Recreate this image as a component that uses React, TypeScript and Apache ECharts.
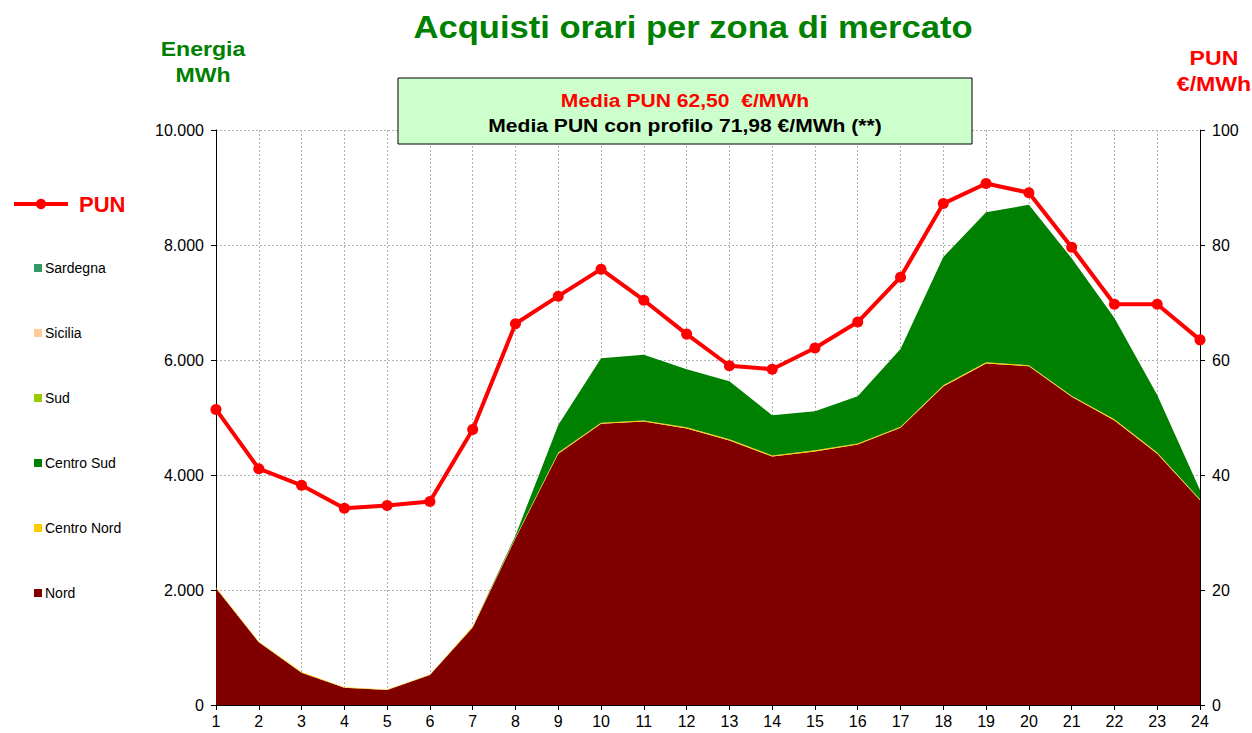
import React, { useEffect, useRef } from "react";
import * as echarts from "echarts";

const hours = ["1","2","3","4","5","6","7","8","9","10","11","12","13","14","15","16","17","18","19","20","21","22","23","24"];
const nord = [2030,1090,560,300,260,520,1350,2900,4370,4890,4930,4810,4600,4320,4410,4530,4820,5540,5940,5890,5360,4950,4370,3560];
const centroNord = [15,14,12,10,10,12,15,18,20,20,20,20,20,20,20,20,20,20,20,20,20,20,20,20];
const centroSud = [0,0,0,0,0,0,0,30,480,1120,1140,1010,1010,700,680,820,1350,2230,2610,2790,2390,1760,1000,160];
const sud = [0,0,0,0,0,0,0,0,0,0,0,0,0,0,0,0,0,0,0,0,0,0,0,0];
const sicilia = [0,0,0,0,0,0,0,0,0,0,0,0,0,0,0,0,0,0,0,0,0,0,0,0];
const sardegna = [0,0,0,0,0,0,0,0,0,0,0,0,0,0,0,0,0,0,0,0,0,0,0,0];
const pun = [51.4,41.1,38.2,34.2,34.7,35.4,47.9,66.3,71.1,75.8,70.4,64.5,59.0,58.4,62.1,66.6,74.4,87.2,90.7,89.1,79.6,69.7,69.7,63.5];

const FONT = "Arial, 'Liberation Sans', sans-serif";

const fmt = (v: number) => String(v).replace(/\B(?=(\d{3})+(?!\d))/g, ".");

export default function App() {
  const ref = useRef<HTMLDivElement>(null);
  useEffect(() => {
    if (!ref.current) return;
    const chart = echarts.init(ref.current, null, { renderer: "svg" });
    const area = (name: string, data: number[], color: string) => ({
      name,
      type: "line",
      stack: "tot",
      data,
      symbol: "none",
      lineStyle: { width: 0, color },
      itemStyle: { color },
      areaStyle: { color, opacity: 1 },
      z: 2,
    });
    const txt = (text: string, x: number, y: number, fill: string, size: number, sx: number, extra: any = {}) => ({
      type: "text",
      x,
      y,
      scaleX: sx,
      z: 11,
      style: { text, fill, font: `bold ${size}px ${FONT}`, textAlign: "center", textVerticalAlign: "middle", ...extra },
    });
    chart.setOption({
      animation: false,
      textStyle: { fontFamily: FONT },
      grid: { left: 216, top: 130, width: 984, height: 575, containLabel: false },
      legend: [
        {
          data: ["PUN"],
          orient: "vertical",
          left: 12,
          top: 193,
          padding: 0,
          itemWidth: 54,
          itemHeight: 13,
          lineStyle: { width: 4 },
          textStyle: { color: "#ff0000", fontSize: 22, fontWeight: "bold", fontFamily: FONT, padding: [0, 0, 0, 6] },
        },
        {
          data: ["Sardegna", "Sicilia", "Sud", "Centro Sud", "Centro Nord", "Nord"],
          orient: "vertical",
          left: 34,
          top: 261,
          padding: 0,
          icon: "rect",
          itemWidth: 8,
          itemHeight: 8,
          itemGap: 51,
          textStyle: { color: "#000", fontSize: 14, lineHeight: 14, fontFamily: FONT, padding: [0, 0, 0, -2] },
        },
      ],
      xAxis: {
        type: "category",
        data: hours,
        boundaryGap: false,
        axisLine: { lineStyle: { color: "#000", width: 1 } },
        axisTick: { show: true, length: 5, lineStyle: { color: "#000" } },
        axisLabel: { color: "#000", fontSize: 16, margin: 8, fontFamily: FONT },
        splitLine: { show: true, lineStyle: { color: "#b0b0b0", type: [2, 2], width: 1 } },
      },
      yAxis: [
        {
          type: "value",
          min: 0,
          max: 10000,
          interval: 2000,
          axisLine: { show: true, lineStyle: { color: "#000", width: 1 } },
          axisTick: { show: true, length: 5, lineStyle: { color: "#000" } },
          axisLabel: { color: "#000", fontSize: 16, margin: 12, fontFamily: FONT, formatter: fmt },
          splitLine: { show: true, lineStyle: { color: "#b0b0b0", type: [2, 2], width: 1 } },
        },
        {
          type: "value",
          min: 0,
          max: 100,
          interval: 20,
          position: "right",
          axisLine: { show: true, lineStyle: { color: "#000", width: 1 } },
          axisTick: { show: true, length: 5, lineStyle: { color: "#000" } },
          axisLabel: { color: "#000", fontSize: 16, margin: 12, fontFamily: FONT },
          splitLine: { show: false },
        },
      ],
      series: [
        area("Nord", nord, "#800000"),
        area("Centro Nord", centroNord, "#ffcc00"),
        area("Centro Sud", centroSud, "#008000"),
        area("Sud", sud, "#99cc00"),
        area("Sicilia", sicilia, "#ffcc99"),
        area("Sardegna", sardegna, "#339966"),
        {
          name: "PUN",
          type: "line",
          yAxisIndex: 1,
          data: pun,
          symbol: "circle",
          symbolSize: 11,
          lineStyle: { color: "#ff0000", width: 4 },
          itemStyle: { color: "#ff0000" },
          z: 5,
        },
      ],
      graphic: [
        txt("Acquisti orari per zona di mercato", 693, 27, "#008000", 31, 1.116),
        txt("Energia\nMWh", 203, 62, "#008000", 21, 1.1, { lineHeight: 26 }),
        txt("PUN\n€/MWh", 1214, 71, "#ff0000", 21, 1.1, { lineHeight: 26 }),
        {
          type: "rect",
          shape: { x: 398, y: 78, width: 574, height: 66 },
          style: { fill: "#ccffcc", stroke: "#000", lineWidth: 1 },
          z: 10,
        },
        txt("Media PUN 62,50  €/MWh", 685, 100, "#ff0000", 18.5, 1.14),
        txt("Media PUN con profilo 71,98 €/MWh (**)", 685, 125, "#000", 18.5, 1.14),
      ],
    });
    return () => chart.dispose();
  }, []);
  return <div ref={ref} style={{ position: "fixed", left: 0, top: 0, width: 1252, height: 733, background: "#fff" }} />;
}
